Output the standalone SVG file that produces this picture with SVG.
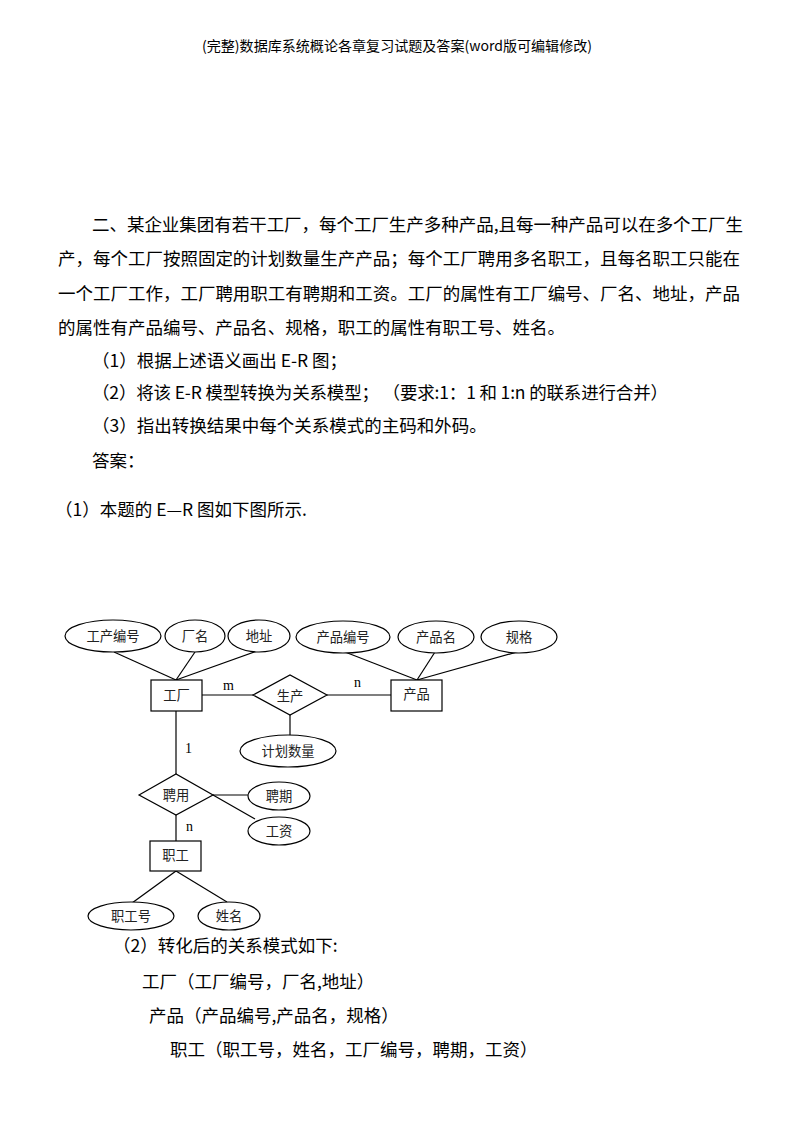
<svg xmlns="http://www.w3.org/2000/svg" width="794" height="1123" viewBox="0 0 794 1123">
<style>
.t{font-family:"Noto Sans CJK SC","Noto Sans",sans-serif;font-size:17.5px;fill:#000}
.h{font-family:"Noto Sans CJK SC","Noto Sans",sans-serif;font-size:14px;fill:#000}
.l{font-family:"Noto Sans CJK SC","Noto Sans",sans-serif;font-size:13.3px;fill:#222;text-anchor:middle}
.c{font-family:"Liberation Serif",serif;font-size:14px;fill:#000}
.s{fill:#fff;stroke:#000;stroke-width:1.2}
.e{stroke:#000;stroke-width:1.2;fill:none}
</style>
<rect width="794" height="1123" fill="#fff"/>
<text class="h" x="397" y="51" text-anchor="middle" textLength="390" lengthAdjust="spacingAndGlyphs">(完整)数据库系统概论各章复习试题及答案(word版可编辑修改)</text>

<text class="t" x="92" y="231" textLength="651">二、某企业集团有若干工厂，每个工厂生产多种产品,且每一种产品可以在多个工厂生</text>
<text class="t" x="58" y="265" textLength="682">产，每个工厂按照固定的计划数量生产产品；每个工厂聘用多名职工，且每名职工只能在</text>
<text class="t" x="58" y="300" textLength="682">一个工厂工作，工厂聘用职工有聘期和工资。工厂的属性有工厂编号、厂名、地址，产品</text>
<text class="t" x="58" y="334" textLength="507">的属性有产品编号、产品名、规格，职工的属性有职工号、姓名。</text>
<text class="t" x="92" y="367">（1）根据上述语义画出 E-R 图；</text>
<text class="t" x="92" y="399" textLength="576">（2）将该 E-R 模型转换为关系模型；  （要求:1：1 和 1:n 的联系进行合并）</text>
<text class="t" x="92" y="432">（3）指出转换结果中每个关系模式的主码和外码。</text>
<text class="t" x="92" y="467">答案：</text>
<text class="t" x="55" y="516">（1）本题的 E—R 图如下图所示.</text>

<g id="connectors" class="e">
<line x1="114" y1="652" x2="176" y2="680"/>
<line x1="195" y1="652" x2="176" y2="680"/>
<line x1="257" y1="651" x2="176" y2="680"/>
<line x1="345" y1="652" x2="417" y2="680"/>
<line x1="435" y1="652" x2="417" y2="680"/>
<line x1="517" y1="652" x2="417" y2="680"/>
<line x1="202" y1="695" x2="253" y2="695"/>
<line x1="327" y1="695" x2="391" y2="695"/>
<line x1="290" y1="715" x2="290" y2="735"/>
<line x1="176" y1="711" x2="176" y2="774"/>
<line x1="213" y1="795" x2="248" y2="795"/>
<line x1="213" y1="795" x2="255" y2="819"/>
<line x1="176" y1="815" x2="176" y2="841"/>
<line x1="176" y1="871" x2="132" y2="903"/>
<line x1="176" y1="871" x2="227" y2="902"/>
</g>
<g id="card">
<text class="c" x="223" y="690">m</text>
<text class="c" x="354" y="687">n</text>
<text class="c" x="185" y="753">1</text>
<text class="c" x="186" y="831">n</text>
</g>

<g id="attr-gcbh"><ellipse class="s" cx="113" cy="636" rx="48" ry="16"/><text class="l" x="113" y="641">工产编号</text></g>
<g id="attr-cm"><ellipse class="s" cx="195" cy="636" rx="30" ry="16"/><text class="l" x="195" y="641">厂名</text></g>
<g id="attr-dz"><ellipse class="s" cx="259" cy="636" rx="31" ry="16"/><text class="l" x="259" y="641">地址</text></g>
<g id="attr-cpbh"><ellipse class="s" cx="343" cy="637" rx="47" ry="16"/><text class="l" x="343" y="642">产品编号</text></g>
<g id="attr-cpm"><ellipse class="s" cx="436" cy="637" rx="38" ry="16"/><text class="l" x="436" y="642">产品名</text></g>
<g id="attr-gg"><ellipse class="s" cx="519" cy="637" rx="38" ry="16"/><text class="l" x="519" y="642">规格</text></g>
<g id="ent-gc"><rect class="s" x="151" y="680" width="51" height="31"/><text class="l" x="176.5" y="700">工厂</text></g>
<g id="rel-sc"><polygon class="s" points="253,695 290,675 327,695 290,715"/><text class="l" x="290" y="701">生产</text></g>
<g id="ent-cp"><rect class="s" x="391" y="680" width="51" height="31"/><text class="l" x="416.5" y="699">产品</text></g>
<g id="attr-jhsl"><ellipse class="s" cx="288" cy="751" rx="48" ry="16"/><text class="l" x="288" y="756">计划数量</text></g>
<g id="rel-py"><polygon class="s" points="139,795 176,774 213,795 176,815"/><text class="l" x="176" y="800">聘用</text></g>
<g id="attr-pq"><ellipse class="s" cx="279" cy="796" rx="31" ry="14"/><text class="l" x="279" y="801">聘期</text></g>
<g id="attr-gz"><ellipse class="s" cx="279" cy="831" rx="31" ry="14"/><text class="l" x="279" y="836">工资</text></g>
<g id="ent-zg"><rect class="s" x="150" y="841" width="51" height="30"/><text class="l" x="175.5" y="860">职工</text></g>
<g id="attr-zgh"><ellipse class="s" cx="131" cy="916" rx="43" ry="14"/><text class="l" x="131" y="921">职工号</text></g>
<g id="attr-xm"><ellipse class="s" cx="229" cy="916" rx="31" ry="14"/><text class="l" x="229" y="921">姓名</text></g>

<text class="t" x="113" y="952">（2）转化后的关系模式如下:</text>
<text class="t" x="142" y="988">工厂（工厂编号，厂名,地址）</text>
<text class="t" x="149" y="1022">产品（产品编号,产品名，规格）</text>
<text class="t" x="170" y="1056">职工（职工号，姓名，工厂编号，聘期，工资）</text>
</svg>
